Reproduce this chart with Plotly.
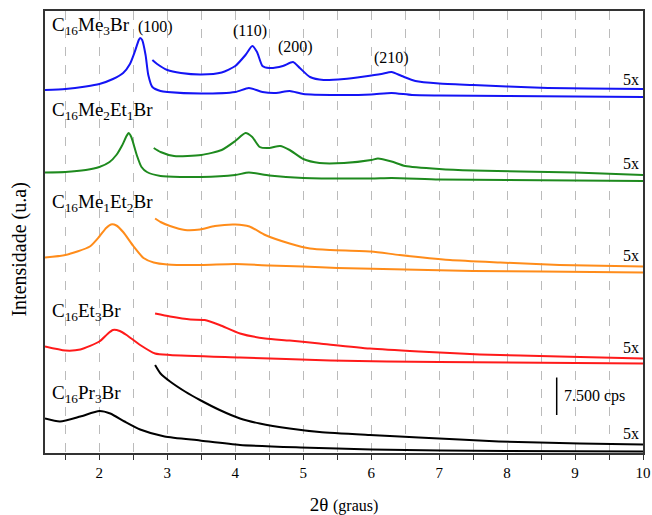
import plotly.graph_objects as go

# ---- data (2theta in degrees, intensity in cps incl. vertical offsets) ----
me3_x = [1.2, 1.5, 1.8, 2.0, 2.2, 2.35, 2.45, 2.52, 2.58, 2.6, 2.63, 2.68, 2.72, 2.78, 2.9, 3.0, 3.5, 4.0, 4.2, 4.4, 4.6, 4.8, 5.0, 5.5, 6.0, 6.3, 6.6, 7.0, 8.0, 9.0, 10.0]
me3_y = [72600, 72800, 73300, 73800, 74800, 76000, 77800, 80200, 82600, 83000, 82600, 79600, 75600, 73200, 72400, 72200, 71900, 72200, 73000, 72200, 72000, 72400, 71800, 71600, 71700, 72000, 71600, 71500, 71400, 71300, 71200]
me3_5x_x = [2.78, 2.85, 3.0, 3.2, 3.5, 3.8, 4.0, 4.15, 4.25, 4.32, 4.4, 4.5, 4.7, 4.85, 4.95, 5.1, 5.3, 5.6, 5.9, 6.15, 6.3, 6.45, 6.65, 7.0, 7.5, 8.0, 8.6, 9.2, 10.0]
me3_5x_y = [78600, 77800, 76600, 76000, 75700, 76100, 77400, 79600, 81400, 80200, 77400, 77000, 77400, 78200, 77000, 75200, 74600, 74800, 75300, 75800, 76200, 75400, 74400, 73900, 73600, 73300, 73000, 72900, 72800]

me2et1_x = [1.2, 1.5, 1.8, 2.0, 2.15, 2.25, 2.33, 2.4, 2.43, 2.47, 2.55, 2.62, 2.7, 2.9, 3.5, 4.0, 4.2, 4.5, 5.0, 6.0, 6.3, 7.0, 8.0, 9.0, 10.0]
me2et1_y = [56100, 56200, 56600, 57200, 58200, 59600, 61400, 63400, 64000, 63200, 59600, 57200, 56200, 55400, 55200, 55600, 56100, 55500, 55000, 54900, 55000, 54700, 54600, 54500, 54400]
me2et1_5x_x = [2.8, 2.9, 3.1, 3.5, 3.8, 4.0, 4.15, 4.25, 4.36, 4.5, 4.66, 4.8, 5.0, 5.24, 5.6, 6.0, 6.1, 6.3, 6.5, 7.0, 7.5, 8.2, 9.0, 10.0]
me2et1_5x_y = [61000, 60200, 59400, 59600, 60600, 62400, 64000, 63200, 61200, 61000, 61400, 60600, 58800, 58000, 58000, 58600, 58900, 58300, 57400, 56800, 56500, 56300, 56100, 55600]

me1et2_x = [1.2, 1.5, 1.86, 2.0, 2.1, 2.17, 2.25, 2.35, 2.5, 2.65, 2.8, 3.0, 3.5, 4.0, 4.5, 5.0, 5.5, 6.5, 7.5, 8.5, 10.0]
me1et2_y = [39100, 39600, 41300, 43300, 45000, 45700, 45500, 44200, 41400, 39000, 38100, 37700, 37600, 37800, 37500, 37300, 37000, 36700, 36400, 36300, 36100]
me1et2_5x_x = [2.82, 2.9, 3.04, 3.26, 3.48, 3.7, 4.0, 4.21, 4.44, 4.8, 5.1, 5.4, 6.0, 6.42, 7.16, 7.9, 8.77, 10.0]
me1et2_5x_y = [46900, 46200, 45400, 44600, 44700, 45400, 45700, 45300, 43600, 41900, 40900, 40600, 40300, 39600, 38600, 38100, 37600, 37300]

et3_x = [1.2, 1.5, 1.72, 2.0, 2.12, 2.2, 2.3, 2.4, 2.6, 2.82, 3.04, 4.07, 5.4, 7.0, 10.0]
et3_y = [21300, 20500, 20700, 22300, 23800, 24600, 24400, 23600, 21600, 19900, 19600, 19100, 18500, 18200, 17900]
et3_5x_x = [2.82, 3.04, 3.34, 3.55, 3.77, 4.07, 4.44, 4.8, 5.24, 5.98, 6.7, 7.6, 8.77, 10.0]
et3_5x_y = [27900, 27300, 26700, 26600, 25600, 23900, 22900, 22500, 21900, 20900, 20300, 19700, 19300, 18900]

pr3_x = [1.2, 1.42, 1.72, 2.0, 2.16, 2.37, 2.6, 2.96, 3.48, 4.07, 4.96, 6.0, 8.0, 10.0]
pr3_y = [6900, 6300, 7300, 8400, 7900, 6300, 4700, 3300, 2500, 1600, 1100, 700, 400, 300]
pr3_5x_x = [2.82, 2.9, 3.04, 3.26, 3.48, 3.77, 4.07, 4.36, 4.8, 5.24, 5.98, 6.7, 7.88, 9.07, 10.0]
pr3_5x_y = [17600, 15900, 14300, 12300, 10600, 8600, 6900, 5900, 4900, 4200, 3600, 3100, 2300, 1900, 1700]

series_names = ["C<sub>16</sub>Me<sub>3</sub>Br", "C<sub>16</sub>Me<sub>2</sub>Et<sub>1</sub>Br",
                "C<sub>16</sub>Me<sub>1</sub>Et<sub>2</sub>Br", "C<sub>16</sub>Et<sub>3</sub>Br",
                "C<sub>16</sub>Pr<sub>3</sub>Br"]
name_y = [85400, 68400, 50000, 28200, 11800]
fivex_y = [74800, 58000, 39600, 21200, 4000]

peak_labels = ["(100)", "(110)", "(200)", "(210)"]
peak_x = [2.82, 4.21, 4.88, 6.3]
peak_y = [85200, 84400, 81200, 79000]

scale_x = 8.73
scale_y0 = 7600
scale_cps = 7500
scale_label = "7.500 cps"

x_ticks = [2, 3, 4, 5, 6, 7, 8, 9, 10]

colors = ["#1414F5", "#1E8A1E", "#FF8C1A", "#FF1A1A", "#000000"]

data = [
    (me3_x, me3_y, me3_5x_x, me3_5x_y),
    (me2et1_x, me2et1_y, me2et1_5x_x, me2et1_5x_y),
    (me1et2_x, me1et2_y, me1et2_5x_x, me1et2_5x_y),
    (et3_x, et3_y, et3_5x_x, et3_5x_y),
    (pr3_x, pr3_y, pr3_5x_x, pr3_5x_y),
]

SERIF = "Liberation Serif"

fig = go.Figure()
for (bx, by, fx, fy), c in zip(data, colors):
    fig.add_trace(go.Scatter(x=bx, y=by, mode="lines", line=dict(color=c, width=2, shape="spline", smoothing=0.6),
                             showlegend=False, hoverinfo="skip"))
    fig.add_trace(go.Scatter(x=fx, y=fy, mode="lines", line=dict(color=c, width=2, shape="spline", smoothing=0.6),
                             showlegend=False, hoverinfo="skip"))

# scale bar
fig.add_trace(go.Scatter(x=[scale_x, scale_x], y=[scale_y0, scale_y0 + scale_cps], mode="lines",
                         line=dict(color="black", width=1.5), showlegend=False, hoverinfo="skip"))

ann = []
for name, yv in zip(series_names, name_y):
    ann.append(dict(x=1.27, y=yv, xref="x", yref="y", text=name, showarrow=False, xanchor="left", yanchor="middle",
                    font=dict(family=SERIF, size=19, color="black")))
for yv in fivex_y:
    ann.append(dict(x=9.97, y=yv, xref="x", yref="y", text="5x", showarrow=False, xanchor="right", yanchor="middle",
                    font=dict(family=SERIF, size=16, color="black")))
for t, xv, yv in zip(peak_labels, peak_x, peak_y):
    ann.append(dict(x=xv, y=yv, xref="x", yref="y", text=t, showarrow=False, xanchor="center", yanchor="middle",
                    font=dict(family=SERIF, size=16, color="black")))
ann.append(dict(x=scale_x + 0.08, y=scale_y0 + scale_cps / 2, xref="x", yref="y", text=scale_label, showarrow=False,
                xanchor="left", yanchor="middle", font=dict(family=SERIF, size=16, color="black")))
# y-axis title (placed as text to match position)
ann.append(dict(x=-0.042, y=0.46, xref="paper", yref="paper", text="Intensidade (u.a)", showarrow=False,
                textangle=-90, xanchor="center", yanchor="middle", font=dict(family=SERIF, size=20, color="black")))

fig.update_layout(
    width=652, height=515,
    margin=dict(l=45, r=9, t=11, b=62),
    paper_bgcolor="white", plot_bgcolor="white",
    font=dict(family=SERIF, color="black"),
    annotations=ann,
    xaxis=dict(
        range=[1.2, 10.0], tickvals=x_ticks, ticktext=[str(v) for v in x_ticks],
        automargin=False,
        ticks="outside", ticklen=5, tickcolor="#333", tickwidth=1.2,
        ticklabeloverflow="allow",
        showgrid=True, gridcolor="#BBBBBB", griddash="dash", gridwidth=1,
        minor=dict(tick0=1.5, dtick=1, ticks="outside", ticklen=5, tickcolor="#333",
                   showgrid=True, gridcolor="#BBBBBB", griddash="dash", gridwidth=1),
        showline=True, linecolor="#333", linewidth=1.5, mirror=True,
        zeroline=False,
        tickfont=dict(family=SERIF, size=15, color="black"),
        title=dict(text="2θ <span style='font-size:16px'>(graus)</span>", font=dict(family=SERIF, size=19, color="black"), standoff=20),
    ),
    yaxis=dict(
        range=[0, 88400], showticklabels=False, ticks="", showgrid=False, zeroline=False,
        automargin=False,
        showline=True, linecolor="#333", linewidth=1.5, mirror=True,
    ),
)

fig.write_html("out.html", config={"displayModeBar": False},
               post_script="document.body.style.margin='0px';")
